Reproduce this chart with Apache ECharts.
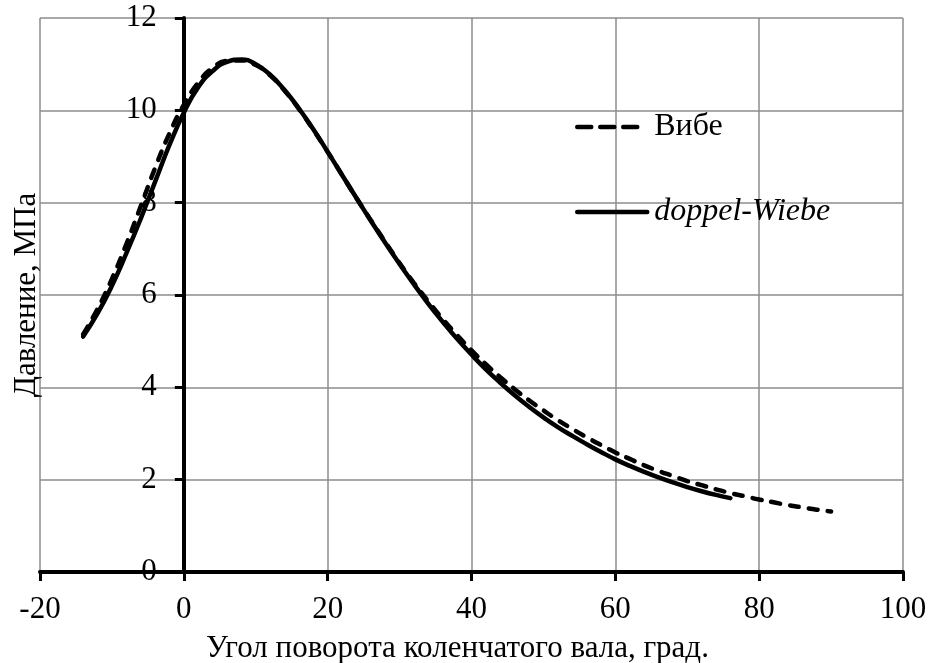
<!DOCTYPE html>
<html>
<head>
<meta charset="utf-8">
<script src="https://cdn.jsdelivr.net/npm/echarts@6/dist/echarts.min.js"></script>
<style>
html,body{margin:0;padding:0;background:#fff;}
#chart{width:930px;height:663px;}
</style>
</head>
<body>
<div id="chart"></div>
<script>
// Angle values (degrees) and pressures (MPa)
const angleDoppel = [-14,-12,-10,-8,-6,-4,-2,0,2,4,6,8,10,12,14,16,18,20,22,24,26,28,30,32,34,36,38,40,42,44,46,48,50,52,54,56,58,60,62,64,66,68,70,72,74,76];
const pressDoppel = [5.1,5.6,6.2,6.9,7.65,8.45,9.25,9.95,10.5,10.85,11.05,11.1,11.0,10.77,10.44,10.04,9.59,9.1,8.6,8.1,7.61,7.13,6.67,6.23,5.81,5.42,5.05,4.71,4.39,4.1,3.83,3.58,3.35,3.14,2.95,2.77,2.6,2.44,2.3,2.17,2.05,1.94,1.84,1.75,1.67,1.6];

const angleWiebe = [-14,-12,-10,-8,-6,-4,-2,0,2,4,6,8,10,12,14,16,18,20,22,24,26,28,30,32,34,36,38,40,42,44,46,48,50,52,54,56,58,60,62,64,66,68,70,72,74,76,78,80,82,84,86,88,90];
const pressWiebe = [5.15,5.7,6.35,7.1,7.92,8.75,9.5,10.12,10.6,10.92,11.07,11.08,10.98,10.76,10.43,10.03,9.58,9.1,8.6,8.1,7.62,7.15,6.69,6.26,5.86,5.48,5.13,4.8,4.5,4.22,3.96,3.72,3.5,3.29,3.1,2.92,2.75,2.59,2.45,2.31,2.19,2.08,1.97,1.88,1.79,1.71,1.64,1.57,1.51,1.45,1.4,1.35,1.31];

const xTicks = {min: -20, max: 100, step: 20};
const yTicks = {min: 0, max: 12, step: 2};
const seriesNames = ['Вибе', 'doppel-Wiebe'];
const xTitle = 'Угол поворота коленчатого вала, град.';
const yTitle = 'Давление, МПа';

const FONT = "'Liberation Serif','Times New Roman',serif";
const chart = echarts.init(document.getElementById('chart'), null, {renderer: 'canvas'});

function zip(a, b){ return a.map((v,i)=>[v,b[i]]); }

const GRID_LEFT = 40, GRID_RIGHT = 27;
const plotW = 930 - GRID_LEFT - GRID_RIGHT;
// y axis sits at x = 0
const yAxisShift = plotW * (0 - xTicks.min) / (xTicks.max - xTicks.min);

chart.setOption({
  backgroundColor: '#fff',
  animation: false,
  grid: {left: GRID_LEFT, right: GRID_RIGHT, top: 18, bottom: 91, containLabel: false, outerBoundsMode: 'none'},
  legend: [
    {
      data: [seriesNames[0]], left: 570, top: 106, orient: 'vertical',
      itemWidth: 62, itemHeight: 14,
      itemStyle: {opacity: 0},
      lineStyle: {width: 4.5, type: [14, 9], cap: 'round', color: '#000'},
      textStyle: {fontFamily: FONT, fontSize: 32, color: '#000', padding: [0, 0, 0, 10]}
    },
    {
      data: [seriesNames[1]], left: 570, top: 191, orient: 'vertical',
      itemWidth: 70, itemHeight: 14,
      itemStyle: {opacity: 0},
      lineStyle: {width: 4.5, type: 'solid', cap: 'round', color: '#000'},
      textStyle: {fontFamily: FONT, fontSize: 32, color: '#000', fontStyle: 'italic', padding: [0, 0, 0, 2]}
    }
  ],
  xAxis: {
    type: 'value', min: xTicks.min, max: xTicks.max, interval: xTicks.step,
    name: xTitle, nameLocation: 'middle', nameGap: 61,
    nameTextStyle: {fontFamily: FONT, fontSize: 31, color: '#000', padding: [0, 28, 0, 0]},
    axisLine: {onZero: true, lineStyle: {color: '#000', width: 4}},
    axisTick: {show: true, inside: false, length: 9, lineStyle: {color: '#000', width: 3}},
    axisLabel: {fontFamily: FONT, fontSize: 31, color: '#000', margin: 22},
    splitLine: {show: true, lineStyle: {color: '#8c8c8c', width: 1.5}}
  },
  yAxis: {
    type: 'value', min: yTicks.min, max: yTicks.max, interval: yTicks.step,
    offset: -yAxisShift,
    name: yTitle, nameLocation: 'middle', nameGap: 141,
    nameTextStyle: {fontFamily: FONT, fontSize: 31, color: '#000'},
    axisLine: {onZero: false, lineStyle: {color: '#000', width: 4}},
    axisTick: {show: true, inside: false, length: 9, lineStyle: {color: '#000', width: 3}},
    axisLabel: {fontFamily: FONT, fontSize: 31, color: '#000', margin: 27},
    splitLine: {show: true, lineStyle: {color: '#8c8c8c', width: 1.5}}
  },
  series: [
    {
      name: seriesNames[0], type: 'line', data: zip(angleWiebe, pressWiebe),
      symbol: 'none', smooth: true, z: 3,
      lineStyle: {color: '#000', width: 4.5, type: [9, 10], cap: 'round'},
      itemStyle: {color: '#000'}
    },
    {
      name: seriesNames[1], type: 'line', data: zip(angleDoppel, pressDoppel),
      symbol: 'none', smooth: true, z: 4,
      lineStyle: {color: '#000', width: 4.5, type: 'solid', cap: 'round'},
      itemStyle: {color: '#000'}
    }
  ]
});
</script>
</body>
</html>
